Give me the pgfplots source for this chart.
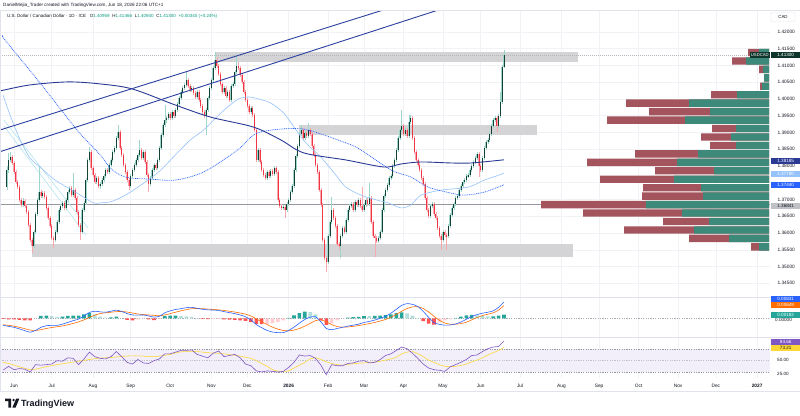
\documentclass[border=0pt]{standalone}
\usepackage{fontspec}
\setmainfont{Liberation Sans}
\usepackage{pgfplots}
\usepackage{pgfplotstable}
\pgfplotsset{compat=1.18}

\definecolor{tvtext}{HTML}{131722}
\definecolor{tvgrid}{HTML}{F0F2F6}
\definecolor{tvframe}{HTML}{E0E3EB}
\definecolor{upbody}{RGB}{18,66,54}
\definecolor{upedge}{RGB}{158,214,203}
\definecolor{dnbody}{HTML}{F23645}
\definecolor{dnedge}{RGB}{248,168,175}
\definecolor{zone}{RGB}{212,212,214}
\definecolor{chan}{RGB}{44,64,160}
\definecolor{smaslow}{RGB}{42,58,148}
\definecolor{smafast}{RGB}{150,195,250}
\definecolor{emadot}{HTML}{2962FF}
\definecolor{pale}{RGB}{176,228,238}
\definecolor{hline}{RGB}{150,152,160}
\definecolor{vpred}{RGB}{163,84,92}
\definecolor{vpgreen}{RGB}{62,138,122}
\definecolor{macdblue}{HTML}{2962FF}
\definecolor{macdorange}{HTML}{FF6D00}
\definecolor{histup}{HTML}{26A69A}
\definecolor{histupfade}{HTML}{B2DFDB}
\definecolor{histdn}{HTML}{FF5252}
\definecolor{histdnfade}{HTML}{FFCDD2}
\definecolor{rsiline}{HTML}{7E57C2}
\definecolor{rsima}{HTML}{FDD835}
\definecolor{rsiband}{RGB}{242,238,250}
\definecolor{tvgreen}{HTML}{089981}
\definecolor{dashgray}{HTML}{9598A1}

% daily candles: bar index (0 = 2 Jun 2025), open, high, low, close
\pgfplotstableread{
i o h l c
-4 1.3737 1.3800 1.3728 1.3788
-3 1.3788 1.3839 1.3780 1.3818
-2 1.3818 1.3842 1.3812 1.3827
-1 1.3827 1.3834 1.3803 1.3809
0 1.3809 1.3815 1.3777 1.3782
1 1.3782 1.3788 1.3746 1.3752
2 1.3752 1.3758 1.3730 1.3737
3 1.3737 1.3742 1.3693 1.3699
4 1.3699 1.3706 1.3678 1.3684
5 1.3684 1.3705 1.3679 1.3696
6 1.3696 1.3702 1.3675 1.3681
7 1.3681 1.3688 1.3657 1.3663
8 1.3663 1.3668 1.3618 1.3624
9 1.3624 1.3630 1.3572 1.3579
10 1.3579 1.3585 1.3540 1.3561
11 1.3561 1.3608 1.3555 1.3603
12 1.3603 1.3662 1.3598 1.3657
13 1.3657 1.3705 1.3652 1.3699
14 1.3699 1.3797 1.3694 1.3722
15 1.3722 1.3728 1.3704 1.3710
16 1.3710 1.3726 1.3705 1.3719
17 1.3719 1.3724 1.3702 1.3707
18 1.3707 1.3712 1.3669 1.3675
19 1.3675 1.3680 1.3639 1.3645
20 1.3645 1.3650 1.3615 1.3621
21 1.3621 1.3627 1.3579 1.3585
22 1.3585 1.3592 1.3555 1.3579
23 1.3579 1.3609 1.3573 1.3603
24 1.3603 1.3639 1.3598 1.3633
25 1.3633 1.3675 1.3628 1.3669
26 1.3669 1.3688 1.3663 1.3681
27 1.3681 1.3697 1.3675 1.3690
28 1.3690 1.3695 1.3669 1.3675
29 1.3675 1.3705 1.3670 1.3699
30 1.3699 1.3728 1.3693 1.3722
31 1.3722 1.3741 1.3716 1.3734
32 1.3734 1.3740 1.3708 1.3713
33 1.3713 1.3779 1.3707 1.3728
34 1.3728 1.3733 1.3699 1.3705
35 1.3705 1.3710 1.3657 1.3663
36 1.3663 1.3668 1.3618 1.3624
37 1.3624 1.3630 1.3579 1.3603
38 1.3603 1.3675 1.3597 1.3669
39 1.3669 1.3697 1.3663 1.3690
40 1.3690 1.3765 1.3685 1.3758
41 1.3758 1.3825 1.3752 1.3818
42 1.3818 1.3857 1.3812 1.3842
43 1.3842 1.3848 1.3788 1.3794
44 1.3794 1.3800 1.3767 1.3773
45 1.3773 1.3779 1.3746 1.3752
46 1.3752 1.3770 1.3745 1.3764
47 1.3764 1.3769 1.3734 1.3740
48 1.3740 1.3752 1.3732 1.3746
49 1.3746 1.3764 1.3740 1.3758
50 1.3758 1.3776 1.3752 1.3770
51 1.3770 1.3794 1.3764 1.3788
52 1.3788 1.3795 1.3776 1.3782
53 1.3782 1.3809 1.3776 1.3803
54 1.3803 1.3824 1.3797 1.3818
55 1.3818 1.3848 1.3812 1.3842
56 1.3842 1.3860 1.3836 1.3854
57 1.3854 1.3890 1.3848 1.3884
58 1.3884 1.3922 1.3878 1.3902
59 1.3902 1.3908 1.3848 1.3854
60 1.3854 1.3860 1.3827 1.3833
61 1.3833 1.3839 1.3797 1.3803
62 1.3803 1.3809 1.3776 1.3782
63 1.3782 1.3788 1.3752 1.3758
64 1.3758 1.3764 1.3728 1.3740
65 1.3740 1.3776 1.3734 1.3770
66 1.3770 1.3794 1.3764 1.3788
67 1.3788 1.3809 1.3782 1.3803
68 1.3803 1.3824 1.3797 1.3818
69 1.3818 1.3839 1.3812 1.3833
70 1.3833 1.3878 1.3827 1.3848
71 1.3848 1.3854 1.3818 1.3824
72 1.3824 1.3848 1.3818 1.3842
73 1.3842 1.3848 1.3806 1.3812
74 1.3812 1.3818 1.3767 1.3773
75 1.3773 1.3779 1.3722 1.3746
76 1.3746 1.3770 1.3740 1.3764
77 1.3764 1.3794 1.3758 1.3788
78 1.3788 1.3809 1.3782 1.3803
79 1.3803 1.3810 1.3788 1.3794
80 1.3794 1.3824 1.3788 1.3818
81 1.3818 1.3860 1.3812 1.3854
82 1.3854 1.3899 1.3848 1.3893
83 1.3893 1.3928 1.3887 1.3922
84 1.3922 1.3982 1.3916 1.3937
85 1.3937 1.3949 1.3928 1.3943
86 1.3943 1.3961 1.3937 1.3955
87 1.3955 1.3961 1.3937 1.3943
88 1.3943 1.3967 1.3937 1.3961
89 1.3961 1.3967 1.3943 1.3949
90 1.3949 1.3973 1.3943 1.3967
91 1.3967 1.3991 1.3961 1.3985
92 1.3985 1.4009 1.3979 1.4003
93 1.4003 1.4027 1.3997 1.4021
94 1.4021 1.4039 1.4015 1.4033
95 1.4033 1.4048 1.4027 1.4042
96 1.4042 1.4081 1.4036 1.4057
97 1.4057 1.4063 1.4033 1.4039
98 1.4039 1.4045 1.4021 1.4027
99 1.4027 1.4039 1.4021 1.4033
100 1.4033 1.4039 1.4012 1.4018
101 1.4018 1.4024 1.4000 1.4006
102 1.4006 1.4027 1.4000 1.4021
103 1.4021 1.4027 1.3991 1.3997
104 1.3997 1.4003 1.3973 1.3979
105 1.3979 1.3985 1.3955 1.3961
106 1.3961 1.3967 1.3943 1.3949
107 1.3949 1.3973 1.3893 1.3967
108 1.3967 1.4009 1.3961 1.4003
109 1.4003 1.4039 1.3997 1.4033
110 1.4033 1.4063 1.4027 1.4057
111 1.4057 1.4099 1.4051 1.4093
112 1.4093 1.4140 1.4087 1.4116
113 1.4116 1.4125 1.4093 1.4099
114 1.4099 1.4105 1.4069 1.4075
115 1.4075 1.4081 1.4039 1.4045
116 1.4045 1.4051 1.4015 1.4021
117 1.4021 1.4039 1.4015 1.4033
118 1.4033 1.4039 1.4003 1.4009
119 1.4009 1.4027 1.4003 1.4021
120 1.4021 1.4027 1.3991 1.3997
121 1.3997 1.4045 1.3991 1.4039
122 1.4039 1.4051 1.4033 1.4045
123 1.4045 1.4087 1.4039 1.4081
124 1.4081 1.4131 1.4075 1.4099
125 1.4099 1.4110 1.4087 1.4093
126 1.4093 1.4099 1.4066 1.4072
127 1.4072 1.4078 1.4045 1.4051
128 1.4051 1.4057 1.4015 1.4021
129 1.4021 1.4027 1.3991 1.3997
130 1.3997 1.4003 1.3973 1.3979
131 1.3979 1.3985 1.3955 1.3961
132 1.3961 1.3979 1.3955 1.3973
133 1.3973 1.3979 1.3946 1.3952
134 1.3952 1.3958 1.3901 1.3907
135 1.3907 1.3913 1.3812 1.3818
136 1.3818 1.3854 1.3812 1.3848
137 1.3848 1.3854 1.3806 1.3812
138 1.3812 1.3818 1.3782 1.3788
139 1.3788 1.3794 1.3767 1.3773
140 1.3773 1.3779 1.3758 1.3764
141 1.3764 1.3788 1.3758 1.3782
142 1.3782 1.3788 1.3764 1.3770
143 1.3770 1.3791 1.3764 1.3785
144 1.3785 1.3791 1.3770 1.3776
145 1.3776 1.3800 1.3770 1.3794
146 1.3794 1.3800 1.3776 1.3782
147 1.3782 1.3788 1.3693 1.3699
148 1.3699 1.3705 1.3675 1.3681
149 1.3681 1.3687 1.3669 1.3675
150 1.3675 1.3684 1.3669 1.3678
151 1.3678 1.3684 1.3645 1.3669
152 1.3669 1.3693 1.3663 1.3687
153 1.3687 1.3705 1.3681 1.3699
154 1.3699 1.3728 1.3693 1.3722
155 1.3722 1.3746 1.3716 1.3740
156 1.3740 1.3794 1.3734 1.3788
157 1.3788 1.3836 1.3782 1.3830
158 1.3830 1.3866 1.3824 1.3860
159 1.3860 1.3902 1.3854 1.3896
160 1.3896 1.3922 1.3890 1.3907
161 1.3907 1.3913 1.3878 1.3884
162 1.3884 1.3905 1.3878 1.3899
163 1.3899 1.3905 1.3884 1.3890
164 1.3890 1.3928 1.3884 1.3907
165 1.3907 1.3913 1.3890 1.3896
166 1.3896 1.3902 1.3854 1.3860
167 1.3860 1.3866 1.3827 1.3833
168 1.3833 1.3839 1.3797 1.3803
169 1.3803 1.3809 1.3776 1.3782
170 1.3782 1.3788 1.3722 1.3728
171 1.3728 1.3734 1.3678 1.3684
172 1.3684 1.3690 1.3573 1.3579
173 1.3579 1.3585 1.3519 1.3525
174 1.3525 1.3531 1.3484 1.3513
175 1.3513 1.3597 1.3507 1.3591
176 1.3591 1.3639 1.3585 1.3633
177 1.3633 1.3707 1.3627 1.3669
178 1.3669 1.3675 1.3639 1.3645
179 1.3645 1.3651 1.3615 1.3621
180 1.3621 1.3627 1.3561 1.3567
181 1.3567 1.3573 1.3549 1.3561
182 1.3561 1.3597 1.3525 1.3591
183 1.3591 1.3621 1.3585 1.3615
184 1.3615 1.3621 1.3597 1.3603
185 1.3603 1.3645 1.3597 1.3639
186 1.3639 1.3675 1.3633 1.3669
187 1.3669 1.3687 1.3663 1.3681
188 1.3681 1.3693 1.3675 1.3687
189 1.3687 1.3693 1.3663 1.3669
190 1.3669 1.3699 1.3663 1.3693
191 1.3693 1.3699 1.3678 1.3684
192 1.3684 1.3705 1.3678 1.3699
193 1.3699 1.3705 1.3675 1.3681
194 1.3681 1.3737 1.3663 1.3669
195 1.3669 1.3690 1.3663 1.3684
196 1.3684 1.3705 1.3678 1.3699
197 1.3699 1.3705 1.3681 1.3687
198 1.3687 1.3749 1.3681 1.3705
199 1.3705 1.3711 1.3627 1.3633
200 1.3633 1.3639 1.3585 1.3591
201 1.3591 1.3597 1.3528 1.3585
202 1.3585 1.3591 1.3570 1.3576
203 1.3576 1.3591 1.3570 1.3585
204 1.3585 1.3609 1.3579 1.3603
205 1.3603 1.3675 1.3597 1.3669
206 1.3669 1.3716 1.3663 1.3710
207 1.3710 1.3734 1.3704 1.3728
208 1.3728 1.3749 1.3722 1.3743
209 1.3743 1.3770 1.3737 1.3764
210 1.3764 1.3776 1.3758 1.3770
211 1.3770 1.3806 1.3764 1.3800
212 1.3800 1.3824 1.3794 1.3818
213 1.3818 1.3854 1.3812 1.3848
214 1.3848 1.3890 1.3842 1.3884
215 1.3884 1.3913 1.3878 1.3907
216 1.3907 1.3967 1.3901 1.3919
217 1.3919 1.3925 1.3890 1.3896
218 1.3896 1.3913 1.3890 1.3907
219 1.3907 1.3913 1.3884 1.3890
220 1.3890 1.3952 1.3884 1.3931
221 1.3931 1.3952 1.3925 1.3943
222 1.3943 1.3949 1.3878 1.3884
223 1.3884 1.3890 1.3836 1.3842
224 1.3842 1.3848 1.3812 1.3818
225 1.3818 1.3824 1.3797 1.3803
226 1.3803 1.3809 1.3782 1.3788
227 1.3788 1.3794 1.3758 1.3764
228 1.3764 1.3770 1.3740 1.3746
229 1.3746 1.3752 1.3699 1.3705
230 1.3705 1.3711 1.3663 1.3669
231 1.3669 1.3675 1.3645 1.3651
232 1.3651 1.3687 1.3645 1.3681
233 1.3681 1.3693 1.3675 1.3687
234 1.3687 1.3693 1.3651 1.3657
235 1.3657 1.3663 1.3639 1.3645
236 1.3645 1.3651 1.3609 1.3615
237 1.3615 1.3621 1.3585 1.3591
238 1.3591 1.3597 1.3549 1.3579
239 1.3579 1.3609 1.3573 1.3603
240 1.3603 1.3609 1.3588 1.3594
241 1.3594 1.3600 1.3549 1.3591
242 1.3591 1.3627 1.3585 1.3621
243 1.3621 1.3660 1.3615 1.3654
244 1.3654 1.3681 1.3648 1.3675
245 1.3675 1.3693 1.3669 1.3687
246 1.3687 1.3711 1.3681 1.3705
247 1.3705 1.3716 1.3699 1.3710
248 1.3710 1.3734 1.3704 1.3728
249 1.3728 1.3746 1.3722 1.3740
250 1.3740 1.3758 1.3734 1.3752
251 1.3752 1.3764 1.3746 1.3758
252 1.3758 1.3776 1.3752 1.3770
253 1.3770 1.3779 1.3764 1.3773
254 1.3773 1.3794 1.3767 1.3788
255 1.3788 1.3806 1.3782 1.3800
256 1.3800 1.3818 1.3794 1.3812
257 1.3812 1.3830 1.3806 1.3824
258 1.3824 1.3842 1.3818 1.3836
259 1.3836 1.3842 1.3767 1.3800
260 1.3800 1.3806 1.3782 1.3788
261 1.3788 1.3830 1.3782 1.3824
262 1.3824 1.3860 1.3818 1.3854
263 1.3854 1.3878 1.3848 1.3872
264 1.3872 1.3884 1.3866 1.3878
265 1.3878 1.3902 1.3872 1.3896
266 1.3896 1.3925 1.3890 1.3919
267 1.3919 1.3943 1.3913 1.3937
268 1.3937 1.3949 1.3931 1.3943
269 1.3943 1.3949 1.3901 1.3919
270 1.3919 1.3955 1.3913 1.3949
271 1.3949 1.4021 1.3943 1.3991
272 1.3991 1.4102 1.3985 1.4096
273 1.40959 1.41466 1.40940 1.41300
}\candles

% MACD (12,26,9), its signal, histogram colour class, RSI(14) and its MA, every third bar
\pgfplotstableread{
i m s k r rm
-6 -0.0036 -0.0033 3 33.5 47
-3 -0.0041 -0.0036 3 40 45
0 -0.0046 -0.0040 3 34 42
3 -0.0054 -0.0046 3 36 39
6 -0.0063 -0.0053 3 35 36.5
9 -0.0071 -0.0060 3 30 34
12 -0.0062 -0.0062 4 43 35
15 -0.0046 -0.0058 1 42 37
18 -0.0038 -0.0052 1 43 39.5
21 -0.0036 -0.0047 2 44 41
24 -0.0036 -0.0043 2 50 43
27 -0.0030 -0.0039 1 49 44.5
30 -0.0021 -0.0033 1 55 46
33 -0.0012 -0.0026 1 54 47.5
36 -0.0004 -0.0018 1 43 49
39 0.0012 -0.0008 1 53 50.5
42 0.0030 0.0004 1 65 52
45 0.0036 0.0016 2 57 53.5
48 0.0033 0.0024 2 54 54.5
51 0.0031 0.0028 2 53 55
54 0.0036 0.0031 1 57 55.5
57 0.0042 0.0034 1 66 56.5
60 0.0035 0.0035 2 57 57.5
63 0.0024 0.0032 3 47 58
66 0.0017 0.0027 3 44 58.5
69 0.0016 0.0022 4 52 58.5
72 0.0017 0.0019 4 46 58
75 0.0012 0.0017 3 45 57
78 0.0006 0.0015 3 50 57
81 0.0010 0.0013 4 53 58
84 0.0028 0.0017 1 62 59.5
87 0.0038 0.0024 1 62 61
90 0.0045 0.0031 1 65 63.5
93 0.0049 0.0038 2 68 65.5
96 0.0054 0.0044 2 68 66
99 0.0056 0.0049 2 69 66
102 0.0051 0.0050 2 61 66
105 0.0046 0.0049 3 58 65
108 0.0043 0.0047 3 55 64
111 0.0042 0.0045 4 63 63.5
114 0.0040 0.0043 4 67 63
117 0.0034 0.0040 3 57 62
120 0.0029 0.0036 3 59 60.5
123 0.0024 0.0032 3 61 59.5
126 0.0017 0.0027 3 55 58
129 0.0008 0.0021 3 44 56
132 -0.0008 0.0012 3 41 54
135 -0.0032 -0.0003 3 32 50
138 -0.0048 -0.0018 3 30 45
141 -0.0062 -0.0032 4 32 40
144 -0.0070 -0.0045 4 31 34
147 -0.0073 -0.0055 4 30 31.5
150 -0.0073 -0.0062 4 31 31
153 -0.0062 -0.0064 1 38 32
156 -0.0045 -0.0060 1 47 37
159 -0.0025 -0.0052 1 60 42
162 -0.0006 -0.0040 1 58 47
165 0.0006 -0.0026 2 59 53
168 0.0008 -0.0012 2 54 55
171 -0.0018 -0.0008 3 42 52
174 -0.0052 -0.0018 3 25 48
177 -0.0058 -0.0032 4 43 45
180 -0.0052 -0.0042 4 41 43
183 -0.0046 -0.0045 4 41 42
186 -0.0040 -0.0044 1 45 43.5
189 -0.0035 -0.0041 1 46 44.5
192 -0.0030 -0.0037 1 49 45.5
195 -0.0021 -0.0032 1 50 46
198 -0.0016 -0.0027 2 46 47
201 -0.0009 -0.0021 1 47 47.5
204 0.0000 -0.0014 1 52 49
207 0.0010 -0.0006 1 59 51
210 0.0026 0.0006 1 62 53
213 0.0046 0.0020 1 68 56
216 0.0066 0.0036 1 74 62
219 0.0075 0.0050 2 71 65
222 0.0071 0.0058 2 63 66
225 0.0060 0.0059 2 54 62
228 0.0035 0.0050 3 44 57
231 0.0005 0.0032 3 37 51
234 -0.0022 0.0010 3 34 47
237 -0.0031 -0.0010 4 33 43
240 -0.0035 -0.0024 4 31 40
243 -0.0034 -0.0030 4 39 39.5
246 -0.0029 -0.0030 1 43 40
249 -0.0019 -0.0027 1 47 41.5
252 -0.0005 -0.0020 1 52 44
255 0.0009 -0.0008 1 59 48
258 0.0019 0.0004 2 60 51
261 0.0026 0.0014 2 66 55
264 0.0031 0.0021 2 71 60
267 0.0038 0.0028 1 74 64
270 0.0056 0.0042 1 75 68
273 0.00831 0.00649 1 84.66 73.21
}\indic

% volume profile rows: price level, total length, up-volume length
\pgfplotstableread{
p r g
1.41388 21 10
1.41136 37 23
1.40884 10 6
1.40631 5 5
1.40379 9 7
1.40127 58 32
1.39875 143 80
1.39622 120 59
1.39370 162 84
1.39118 57 33
1.38866 68 38
1.38613 59 33
1.38361 134 71
1.38109 182 92
1.37857 114 55
1.37604 169 95
1.37352 126 68
1.37100 127 66
1.36848 228 123
1.36596 186 87
1.36343 106 60
1.36091 145 75
1.35839 80 40
1.35587 18 10
}\profile

\pgfplotsset{
  tvpane/.style={scale only axis, width=770pt, anchor=north west,
    xmin=-7.8, xmax=421.2,
    axis line style={draw=none}, tick style={draw=none},
    xtick={0,21,44,65,87,110,130,153,175,195,217,239,260,282,305,326,348,370,391,414},
    xmajorgrids, grid style={tvgrid, line width=0.5pt},
    clip mode=individual},
  wick/.style 2 args={draw=none, mark=none, forget plot,
    restrict expr to domain={(\thisrow{c}-\thisrow{o})*10000}{#1},
    error bars/.cd, y dir=both, y explicit, error mark=none,
    error bar style={draw=#2, line width=0.45pt, solid}},
  body/.style n args={3}{draw=none, mark=none, forget plot,
    restrict expr to domain={(\thisrow{c}-\thisrow{o})*10000}{#1},
    error bars/.cd, y dir=both, y explicit, error mark=none,
    error bar style={draw=#2, line width=#3, solid}},
}
\tikzset{tag/.style={anchor=west, inner sep=0pt, minimum width=29pt, minimum height=6pt,
  font=\fontsize{4.6}{5}\selectfont, text=white}}

\begin{document}
\begin{tikzpicture}
\useasboundingbox (0,0) rectangle (800pt,-415pt);
\fill[white] (0,0) rectangle (800pt,-415pt);

% ---------------- price pane ----------------
\begin{axis}[tvpane, at={(0pt,-10pt)}, height=287pt,
  ymin=1.340895, ymax=1.426565,
  xticklabels={},
  ymajorgrids,
  ytick={1.345,1.350,1.355,1.360,1.365,1.370,1.375,1.380,1.385,1.390,1.395,1.400,1.405,1.410,1.415,1.420},
  yticklabels={1.34500,1.35000,1.35500,1.36000,1.36500,1.37000,{},1.38000,1.38500,1.39000,1.39500,1.40000,1.40500,1.41000,1.41500,1.42000},
  yticklabel pos=right,
  yticklabel style={font=\fontsize{4.8}{5}\selectfont, text=tvtext, anchor=west, xshift=4pt}]

% supply / demand zones
\addplot[fill=zone, draw=none, forget plot] coordinates {(112.3,1.41104) (314.5,1.41104) (314.5,1.41403) (112.3,1.41403)} -- cycle;
\addplot[fill=zone, draw=none, forget plot] coordinates {(158.7,1.38925) (291.6,1.38925) (291.6,1.39224) (158.7,1.39224)} -- cycle;
\addplot[fill=zone, draw=none, forget plot] coordinates {(10.1,1.35293) (311.2,1.35293) (311.2,1.35663) (10.1,1.35663)} -- cycle;

% horizontal level and last-price line
\addplot[hline, line width=0.7pt, forget plot] coordinates {(-7.8,1.36841) (421.2,1.36841)};
\addplot[dashgray!70, line width=0.4pt, dash pattern=on 1pt off 1pt, forget plot] coordinates {(-7.8,1.41300) (421.2,1.41300)};

% light descending guide lines
\addplot[pale, line width=0.55pt, forget plot] coordinates {(-5.6,1.3937) (41.3,1.3615)};
\addplot[pale, line width=0.55pt, forget plot] coordinates {(-5.6,1.3919) (40.2,1.3594)};

% candles: wicks, body edges, body cores
\addplot[wick={0:1000}{upedge}] table[x=i, y expr={(\thisrow{h}+\thisrow{l})/2}, y error expr={(\thisrow{h}-\thisrow{l})/2}] {\candles};
\addplot[wick={-1000:-0.0001}{dnedge}] table[x=i, y expr={(\thisrow{h}+\thisrow{l})/2}, y error expr={(\thisrow{h}-\thisrow{l})/2}] {\candles};
\addplot[body={0:1000}{upedge}{1.5pt}] table[x=i, y expr={(\thisrow{o}+\thisrow{c})/2}, y error expr={max(abs(\thisrow{c}-\thisrow{o})/2,0.00006)}] {\candles};
\addplot[body={-1000:-0.0001}{dnedge}{1.5pt}] table[x=i, y expr={(\thisrow{o}+\thisrow{c})/2}, y error expr={max(abs(\thisrow{c}-\thisrow{o})/2,0.00006)}] {\candles};
\addplot[body={0:1000}{upbody}{0.7pt}] table[x=i, y expr={(\thisrow{o}+\thisrow{c})/2}, y error expr={max(abs(\thisrow{c}-\thisrow{o})/2,0.00006)}] {\candles};
\addplot[body={-1000:-0.0001}{dnbody}{0.7pt}] table[x=i, y expr={(\thisrow{o}+\thisrow{c})/2}, y error expr={max(abs(\thisrow{c}-\thisrow{o})/2,0.00006)}] {\candles};

% moving averages
\addplot[smafast, line width=0.6pt, smooth, tension=0.5, forget plot] coordinates {
(-6.1,1.4012) (-2.2,1.3952) (3.4,1.3878) (8.9,1.3824) (14.5,1.3797) (22.9,1.3758) (35.2,1.3719)
(44.1,1.3690) (48,1.3690) (53.6,1.3693) (59.2,1.3705) (66.5,1.3728) (79.9,1.3779) (89.9,1.3833)
(98.3,1.3878) (105.6,1.3907) (112.3,1.3943) (119,1.3976) (125.1,1.4000) (130.7,1.4006) (136.3,1.4000)
(143,1.3988) (150.3,1.3958) (156,1.3916) (162.6,1.3869) (170.9,1.3827) (179.3,1.3773) (184.9,1.3737)
(193.3,1.3713) (201.7,1.3699) (208.4,1.3690) (215.6,1.3675) (221.2,1.3684) (226.8,1.3713) (238,1.3728)
(253.1,1.3737) (262,1.3758) (268.7,1.3770) (273,1.3779)};
\addplot[emadot, line width=0.7pt, dash pattern=on 0.9pt off 0.9pt, smooth, tension=0.5, forget plot] coordinates {
(-6.1,1.4188) (-5,1.4176) (14.5,1.4048) (35.2,1.3907) (48,1.3833) (53.6,1.3794) (59.2,1.3773)
(64.8,1.3764) (76,1.3761) (89.9,1.3758) (105.6,1.3782) (124.6,1.3848) (133.5,1.3893) (143,1.3907)
(161.5,1.3910) (184.9,1.3869) (193.3,1.3848) (210.1,1.3788) (221.2,1.3767) (230.7,1.3737)
(243.6,1.3719) (250.8,1.3713) (262,1.3722) (273,1.3744)};
\addplot[smaslow, line width=0.9pt, smooth, tension=0.5, forget plot] coordinates {
(-7.8,1.4024) (8.9,1.4042) (30.2,1.4051) (48,1.4045) (65.9,1.4030) (89.9,1.3982) (109.5,1.3946)
(133.5,1.3916) (148.6,1.3878) (161.5,1.3839) (184.9,1.3818) (206.1,1.3797) (215.6,1.3806)
(226.8,1.3812) (243.6,1.3809) (254.7,1.3809) (273,1.38185)};

% rising channel
\addplot[chan, line width=0.9pt, forget plot] coordinates {(-7.8,1.39075) (230,1.43063)};
\addplot[chan, line width=0.9pt, forget plot] coordinates {(-7.8,1.38427) (250,1.42892)};
\end{axis}

% ---------------- visible-range volume profile ----------------
\begin{axis}[scale only axis, width=770pt, height=287pt, anchor=north west, at={(0pt,-10pt)},
  hide axis, x dir=reverse, xmin=-1, xmax=769, ymin=1.340895, ymax=1.426565]
\addplot[xbar, bar width=0.0022, bar shift=0pt, fill=vpred, draw=none] table[x=r, y=p] {\profile};
\addplot[xbar, bar width=0.0022, bar shift=0pt, fill=vpgreen, draw=none] table[x=g, y=p] {\profile};
\end{axis}

% ---------------- MACD pane ----------------
\begin{axis}[tvpane, at={(0pt,-298pt)}, height=39pt,
  ymin=-0.00954, ymax=0.01035, ytick=\empty, xticklabels={}]
\addplot[dashgray!80, line width=0.4pt, dash pattern=on 1.2pt off 1.2pt, forget plot] coordinates {(-7.8,0) (421.2,0)};
\addplot[ybar, bar width=2, bar shift=0pt, fill=histup, draw=none, restrict expr to domain={\thisrow{k}}{1:1}] table[x=i, y expr={\thisrow{m}-\thisrow{s}}] {\indic};
\addplot[ybar, bar width=2, bar shift=0pt, fill=histupfade, draw=none, restrict expr to domain={\thisrow{k}}{2:2}] table[x=i, y expr={\thisrow{m}-\thisrow{s}}] {\indic};
\addplot[ybar, bar width=2, bar shift=0pt, fill=histdn, draw=none, restrict expr to domain={\thisrow{k}}{3:3}] table[x=i, y expr={\thisrow{m}-\thisrow{s}}] {\indic};
\addplot[ybar, bar width=2, bar shift=0pt, fill=histdnfade, draw=none, restrict expr to domain={\thisrow{k}}{4:4}] table[x=i, y expr={\thisrow{m}-\thisrow{s}}] {\indic};
\addplot[macdorange, line width=0.6pt, smooth, tension=0.4] table[x=i, y=s] {\indic};
\addplot[macdblue, line width=0.6pt, smooth, tension=0.4] table[x=i, y=m] {\indic};
\end{axis}

% ---------------- RSI pane ----------------
\begin{axis}[tvpane, at={(0pt,-338pt)}, height=40pt,
  ymin=19.4, ymax=89.9, ytick=\empty,
  xticklabels={Jun,Jul,Aug,Sep,Oct,Nov,Dec,\textbf{2026},Feb,Mar,Apr,May,Jun,Jul,Aug,Sep,Oct,Nov,Dec,\textbf{2027}},
  xticklabel style={font=\fontsize{4.8}{5}\selectfont, text=tvtext, anchor=base, yshift=-9.5pt, inner sep=0pt}]
\addplot[fill=rsiband, draw=none, forget plot] coordinates {(-7.8,30) (421.2,30) (421.2,70) (-7.8,70)} -- cycle;
\addplot[dashgray, line width=0.4pt, dash pattern=on 1.2pt off 1.2pt, forget plot] coordinates {(-7.8,70) (421.2,70)};
\addplot[dashgray!60, line width=0.4pt, dash pattern=on 1.2pt off 1.2pt, forget plot] coordinates {(-7.8,50) (421.2,50)};
\addplot[dashgray, line width=0.4pt, dash pattern=on 1.2pt off 1.2pt, forget plot] coordinates {(-7.8,30) (421.2,30)};
\addplot[rsima, line width=0.6pt, smooth, tension=0.4] table[x=i, y=rm] {\indic};
\addplot[rsiline, line width=0.6pt] table[x=i, y=r] {\indic};
\end{axis}

% ---------------- frame and pane separators ----------------
\draw[tvframe, line width=0.5pt] (0.25pt,-10.5pt) rectangle (799.75pt,-391.5pt);
\draw[tvframe, line width=0.5pt] (0pt,-297.5pt) -- (800pt,-297.5pt);
\draw[tvframe, line width=0.5pt] (0pt,-337.5pt) -- (800pt,-337.5pt);

% ---------------- header ----------------
\node[anchor=base west, inner sep=0pt, font=\fontsize{4.6}{5}\selectfont, text=tvtext] at (3pt,-6.6pt)
  {DanielMejia\_Trader created with TradingView.com, Jun 18, 2026 22:06 UTC+1};
\node[anchor=base west, inner sep=0pt, font=\fontsize{4.5}{5}\selectfont, text=tvtext] at (7pt,-17.6pt)
  {U.S. Dollar / Canadian Dollar · 1D · ICE\hspace{2.5pt}
   O\textcolor{tvgreen}{1.40959}\hspace{1.5pt} H\textcolor{tvgreen}{1.41466}\hspace{1.5pt}
   L\textcolor{tvgreen}{1.40940}\hspace{1.5pt} C\textcolor{tvgreen}{1.41300}\hspace{1.5pt}
   \textcolor{tvgreen}{+0.00340 (+0.24\%)}};

% ---------------- price scale tags ----------------
\node[draw=tvframe, fill=white, rounded corners=1pt, inner sep=0pt, minimum width=24pt, minimum height=9pt,
  font=\fontsize{4.4}{5}\selectfont, text=tvtext] at (783pt,-17pt) {CAD};
\node[anchor=east, inner sep=0pt, minimum width=20pt, minimum height=6pt, fill=upbody!80!black,
  font=\fontsize{4.2}{5}\selectfont, text=white] at (770pt,-54.6pt) {USDCAD};
\node[tag, fill=upbody!80!black] at (771pt,-54.6pt) {1.41300};
\node[tag, fill=smaslow] at (771pt,-160.5pt) {1.38185};
\node[tag, fill=smafast] at (771pt,-174pt) {1.37790};
\node[tag, fill=emadot] at (771pt,-185pt) {1.37440};
\node[tag, fill=dashgray!60, text=tvtext] at (771pt,-205.7pt) {1.36841};

\node[anchor=west, inner sep=0pt, font=\fontsize{4.6}{5}\selectfont, text=tvtext] at (775pt,-319.6pt) {0.00000};
\node[tag, fill=macdblue] at (771pt,-299pt) {0.00831};
\node[tag, fill=macdorange] at (771pt,-304.6pt) {0.00649};
\node[tag, fill=histup] at (771pt,-314.5pt) {0.00182};

\node[tag, fill=rsiline] at (771pt,-341.6pt) {84.66};
\node[tag, fill=rsima, text=tvtext] at (771pt,-348pt) {73.21};
\node[anchor=west, inner sep=0pt, font=\fontsize{4.6}{5}\selectfont, text=tvtext] at (777pt,-360.3pt) {50.00};
\node[anchor=west, inner sep=0pt, font=\fontsize{4.6}{5}\selectfont, text=tvtext] at (777pt,-374.3pt) {25.00};

% ---------------- footer logo ----------------
\fill[tvtext] (5pt,-398.5pt) -- (11.2pt,-398.5pt) -- (11.2pt,-407.5pt) -- (8.4pt,-407.5pt) -- (8.4pt,-401.2pt) -- (5pt,-401.2pt) -- cycle;
\fill[tvtext] (13.6pt,-400pt) circle (1.35pt);
\fill[tvtext] (16.2pt,-398.5pt) -- (19.4pt,-398.5pt) -- (15.6pt,-407.5pt) -- (12.4pt,-407.5pt) -- cycle;
\node[anchor=base west, inner sep=0pt, font=\fontsize{9}{10}\bfseries\selectfont, text=tvtext] at (21pt,-406.8pt) {TradingView};
\end{tikzpicture}
\end{document}
